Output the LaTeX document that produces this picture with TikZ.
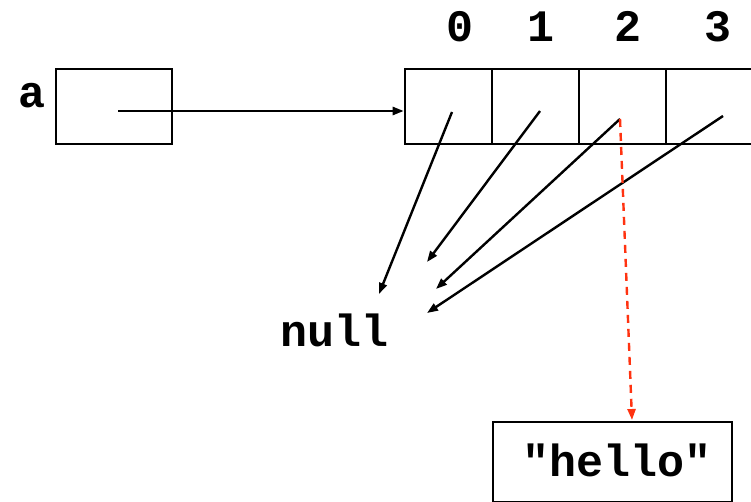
\documentclass[tikz,border=0pt]{standalone}
\usepackage{fontspec}
\setmonofont{Liberation Mono}
\usetikzlibrary{arrows.meta}
\definecolor{ptrred}{HTML}{FF3311}
\tikzset{
  box/.style={draw, line width=2.6pt, rectangle, inner sep=0pt},
  cell/.style={box, minimum width=87pt, minimum height=75pt},
  lbl/.style={font=\fontsize{45}{45}\selectfont\ttfamily\bfseries, inner sep=0pt, anchor=base},
  ptr/.style={line width=2.4pt, -{Triangle[length=11pt,width=8pt]}},
  redptr/.style={ptr, color=ptrred, dash pattern=on 8pt off 6pt}
}
\begin{document}
\begin{tikzpicture}[x=1pt,y=-1pt]
\useasboundingbox (0,0) rectangle (751,502);
\clip (0,0) rectangle (751,502);
% variable a
\node[box, minimum width=116pt, minimum height=75pt] (abox) at (114,106.5) {};
\node[lbl] (alabel) at (32,108) {a};
% array cells
\node[cell] (c0) at (448.5,106.5) {};
\node[cell] (c1) at (535.5,106.5) {};
\node[cell] (c2) at (622.5,106.5) {};
\node[cell] (c3) at (709.5,106.5) {};
% indices
\node[lbl] (i0) at (460,42) {0};
\node[lbl] (i1) at (541,42) {1};
\node[lbl] (i2) at (628,42) {2};
\node[lbl] (i3) at (718,42) {3};
% null and hello
\node[lbl] (null) at (335,346) {null};
\node[box, minimum width=239pt, minimum height=80pt] (hello) at (612.5,462) {};
\node[lbl] (hellotxt) at (617,476) {"hello"};
% coordinates
\coordinate (as) at (118,111);
\coordinate (p0) at (452,112);
\coordinate (p1) at (540,111);
\coordinate (p2) at (620,119);
\coordinate (p3) at (723,116);
\coordinate (n0) at (379,294);
\coordinate (n1) at (427,262);
\coordinate (n2) at (436,289);
\coordinate (n3) at (427,313);
\coordinate (h) at (632,420);
% connectors
\draw[ptr] (as) -- (as -| c0.west);
\draw[ptr] (p0) -- (n0);
\draw[ptr] (p1) -- (n1);
\draw[ptr] (p2) -- (n2);
\draw[ptr] (p3) -- (n3);
\draw[redptr] (p2) -- (h);
\end{tikzpicture}
\end{document}
